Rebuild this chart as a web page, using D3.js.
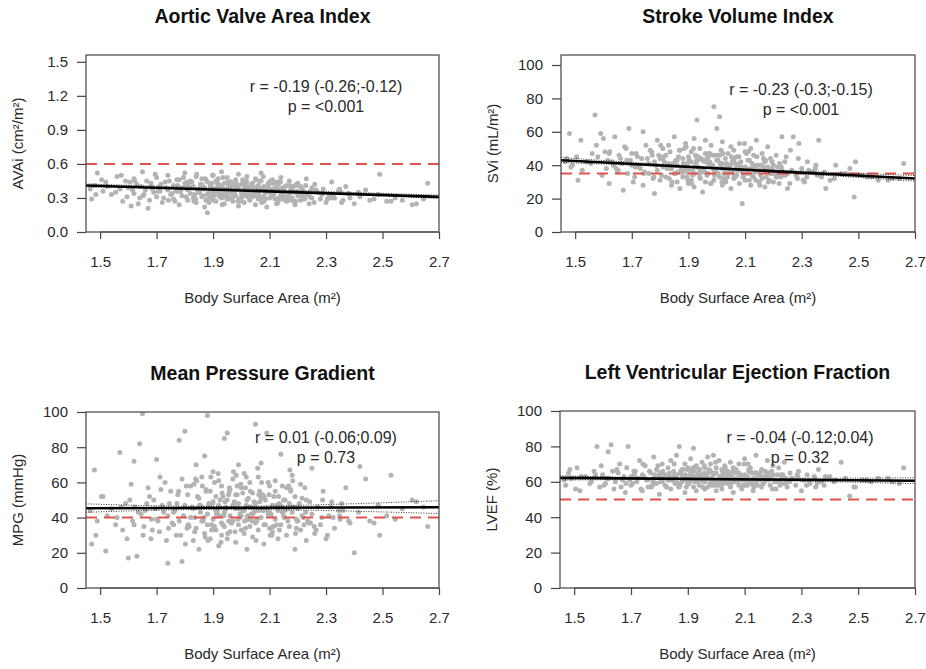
<!DOCTYPE html>
<html>
<head>
<meta charset="utf-8">
<script src="https://cdn.jsdelivr.net/npm/d3@7"></script>
<style>
  body { margin: 0; background: #fff; }
  text { font-family: "Liberation Sans", Arial, sans-serif; fill: #2a2a2a; }
  .title { font-weight: bold; fill: #111; }
</style>
</head>
<body>
<div id="graphic"></div>
<script>
(function() {
  /*** DATA ***/
  // body surface area (m²) of each patient, shared by the four panels
  var bsa = [
    1.47, 1.48, 1.49, 1.51, 1.52, 1.54, 1.56, 1.57, 1.58, 1.59,
    1.60, 1.61, 1.62, 1.62, 1.63, 1.64, 1.65, 1.66, 1.67, 1.68,
    1.69, 1.70, 1.70, 1.71, 1.72, 1.73, 1.74, 1.74, 1.75, 1.76,
    1.76, 1.77, 1.78, 1.78, 1.79, 1.79, 1.80, 1.80, 1.81, 1.81,
    1.82, 1.82, 1.83, 1.83, 1.84, 1.84, 1.85, 1.85, 1.86, 1.86,
    1.86, 1.87, 1.87, 1.88, 1.88, 1.88, 1.89, 1.89, 1.90, 1.90,
    1.90, 1.91, 1.91, 1.91, 1.92, 1.92, 1.92, 1.93, 1.93, 1.93,
    1.94, 1.94, 1.94, 1.95, 1.95, 1.95, 1.96, 1.96, 1.96, 1.97,
    1.97, 1.97, 1.98, 1.98, 1.98, 1.99, 1.99, 1.99, 2.00, 2.00,
    2.00, 2.01, 2.01, 2.01, 2.02, 2.02, 2.02, 2.03, 2.03, 2.03,
    2.04, 2.04, 2.04, 2.05, 2.05, 2.05, 2.06, 2.06, 2.06, 2.07,
    2.07, 2.07, 2.08, 2.08, 2.08, 2.09, 2.09, 2.10, 2.10, 2.10,
    2.11, 2.11, 2.12, 2.12, 2.12, 2.13, 2.13, 2.14, 2.14, 2.15,
    2.15, 2.16, 2.16, 2.17, 2.17, 2.18, 2.18, 2.19, 2.19, 2.20,
    2.20, 2.21, 2.21, 2.22, 2.23, 2.23, 2.24, 2.25, 2.25, 2.26,
    2.27, 2.28, 2.29, 2.30, 2.31, 2.32, 2.33, 2.35, 2.36, 2.37,
    2.38, 2.40, 2.42, 2.44, 2.47, 2.49, 2.53, 2.57, 2.62, 2.66,
    1.465, 1.485, 1.505, 1.525, 1.555, 1.575, 1.595, 1.605, 1.615, 1.635,
    1.645, 1.655, 1.665, 1.675, 1.685, 1.695, 1.705, 1.715, 1.725, 1.735,
    1.745, 1.755, 1.765, 1.775, 1.785, 1.795, 1.805, 1.815, 1.825, 1.835,
    1.845, 1.855, 1.865, 1.875, 1.885, 1.895, 1.905, 1.915, 1.925, 1.935,
    1.945, 1.955, 1.965, 1.975, 1.985, 1.995, 2.005, 2.015, 2.025, 2.035,
    2.045, 2.055, 2.065, 2.075, 2.085, 2.095, 2.105, 2.115, 2.125, 2.135,
    2.145, 2.155, 2.165, 2.175, 2.185, 2.195, 2.205, 2.215, 2.225, 2.245,
    1.835, 1.855, 1.875, 1.895, 1.915, 1.935, 1.955, 1.975, 1.995, 2.015,
    2.035, 2.055, 2.075, 2.095, 2.115, 2.135, 2.155, 2.175, 2.195, 2.215,
    1.885, 1.925, 1.965, 2.005, 2.045, 2.085, 2.125, 2.165, 2.265, 2.285,
    1.905, 1.945, 1.985, 2.025, 2.065, 2.105, 2.145, 2.235, 2.305, 2.345,
    2.325, 2.355, 2.385, 2.415, 2.455, 2.485, 2.515, 2.545, 2.605, 2.645,
    1.812, 1.832, 1.852, 1.872, 1.892, 1.912, 1.932, 1.952, 1.972, 1.992,
    2.012, 2.032, 2.052, 2.072, 2.092, 2.112, 2.132, 2.152, 2.172, 2.192,
    1.778, 1.808, 1.838, 1.868, 1.898, 1.928, 1.958, 1.988, 2.018, 2.048,
    2.078, 2.108, 2.138, 2.168, 2.198, 2.228, 2.258, 2.288, 2.318, 2.348,
    1.918, 1.938, 1.958, 1.978, 1.998, 2.018, 2.038, 2.058, 2.078, 2.098,
    1.622, 1.652, 1.682, 1.712, 1.742, 1.772, 1.802, 1.842, 1.882, 2.242,
    1.862, 1.902, 1.942, 1.982, 2.022, 2.062, 2.102, 2.142, 2.182, 2.222
  ];

  var avai = [
    0.29,0.41,0.52,0.36,0.44,0.33,0.49,0.38,0.27,0.45,
    0.39,0.23,0.47,0.34,0.42,0.30,0.53,0.37,0.21,0.43,
    0.35,0.48,0.31,0.40,0.26,0.44,0.37,0.50,0.33,0.29,
    0.41,0.36,0.46,0.24,0.39,0.32,0.52,0.43,0.28,0.37,
    0.34,0.45,0.30,0.40,0.49,0.26,0.38,0.35,0.42,0.31,
    0.47,0.22,0.39,0.33,0.44,0.17,0.36,0.41,0.28,0.50,
    0.34,0.38,0.45,0.27,0.32,0.42,0.37,0.53,0.30,0.40,
    0.25,0.36,0.43,0.33,0.48,0.29,0.39,0.35,0.44,0.31,
    0.41,0.27,0.37,0.46,0.32,0.23,0.39,0.51,0.34,0.42,
    0.30,0.37,0.44,0.26,0.35,0.40,0.49,0.33,0.28,0.38,
    0.43,0.31,0.36,0.47,0.24,0.39,0.34,0.41,0.29,0.52,
    0.37,0.45,0.32,0.27,0.40,0.35,0.22,0.43,0.30,0.38,
    0.34,0.46,0.29,0.39,0.36,0.26,0.42,0.33,0.48,0.31,
    0.37,0.27,0.41,0.34,0.45,0.30,0.38,0.24,0.35,0.43,
    0.32,0.40,0.28,0.36,0.47,0.33,0.25,0.39,0.30,0.42,
    0.35,0.29,0.38,0.26,0.33,0.44,0.30,0.36,0.28,0.40,
    0.34,0.25,0.31,0.37,0.29,0.51,0.27,0.28,0.25,0.43,
    0.38,0.33,0.46,0.40,0.35,0.50,0.31,0.44,0.37,0.25,
    0.40,0.33,0.45,0.28,0.38,0.51,0.36,0.42,0.30,0.39,
    0.45,0.34,0.27,0.41,0.36,0.48,0.31,0.39,0.44,0.29,
    0.37,0.42,0.32,0.46,0.26,0.39,0.35,0.43,0.31,0.48,
    0.38,0.29,0.44,0.35,0.40,0.27,0.46,0.33,0.37,0.42,
    0.32,0.39,0.45,0.28,0.36,0.41,0.34,0.38,0.25,0.44,
    0.35,0.40,0.31,0.37,0.27,0.42,0.33,0.38,0.29,0.36,
    0.33,0.39,0.28,0.43,0.35,0.31,0.41,0.37,0.29,0.34,
    0.40,0.36,0.30,0.43,0.33,0.38,0.28,0.35,0.41,0.32,
    0.30,0.41,0.35,0.32,0.38,0.29,0.44,0.31,0.37,0.33,
    0.36,0.32,0.40,0.38,0.31,0.35,0.39,0.34,0.29,0.37,
    0.32,0.26,0.30,0.35,0.28,0.33,0.27,0.30,0.24,0.29,
    0.42,0.27,0.35,0.47,0.31,0.39,0.24,0.44,0.36,0.29,
    0.40,0.33,0.46,0.26,0.37,0.43,0.30,0.35,0.41,0.27,
    0.36,0.44,0.29,0.38,0.50,0.33,0.41,0.27,0.45,0.34,
    0.39,0.31,0.44,0.28,0.36,0.41,0.26,0.34,0.30,0.38,
    0.47,0.35,0.30,0.40,0.28,0.44,0.36,0.32,0.49,0.38,
    0.45,0.32,0.40,0.36,0.28,0.46,0.39,0.51,0.34,0.31,
    0.40,0.32,0.37,0.43,0.31,0.38,0.45,0.29,0.40,0.35
  ];

  var svi = [
    44,59,40,31,55,42,47,70,45,59,
    56,38,29,47,42,57,36,44,25,50,
    62,40,47,33,45,38,60,28,52,41,
    35,48,23,42,55,37,44,31,50,39,
    46,33,41,52,28,38,57,35,43,30,
    40,49,26,36,44,33,53,38,29,45,
    37,48,31,42,35,56,27,67,39,44,
    33,50,38,24,43,36,47,30,55,41,
    35,45,29,40,52,37,75,31,62,43,
    38,69,33,46,28,41,54,36,44,31,
    47,35,40,26,51,37,43,32,49,39,
    34,45,29,41,53,36,17,39,48,31,
    43,35,50,28,38,46,33,55,40,30,
    37,47,32,42,27,39,51,35,44,30,
    40,33,46,29,57,37,42,26,35,49,
    57,34,53,38,30,42,36,40,55,33,
    36,31,40,35,38,42,33,31,32,41,
    42,39,45,37,41,52,34,48,43,40,
    38,46,41,51,35,43,30,47,39,44,
    36,44,49,32,40,46,34,42,38,48,
    41,35,45,38,50,33,42,37,46,39,
    44,38,34,47,40,36,43,49,32,39,
    37,42,33,45,39,35,47,31,41,36,
    40,34,44,37,31,42,36,39,33,45,
    39,43,36,41,34,45,38,42,35,40,
    41,36,39,34,43,37,40,33,38,35,
    36,40,44,35,38,42,34,39,37,32,
    42,37,40,35,41,38,36,34,31,37,
    37,34,26,32,35,21,34,33,31,32,
    45,32,40,36,51,29,43,38,47,34,
    41,30,45,37,33,48,39,28,43,36,
    33,44,38,49,31,42,36,46,30,40,
    45,37,31,42,35,39,29,44,33,38,
    50,35,42,29,46,38,33,44,37,53,
    48,37,43,39,35,46,52,30,41,34,
    36,43,32,40,47,34,38,45,30,41
  ];

  var mpg = [
    25,67,38,52,21,45,40,77,33,48,
    17,59,72,36,18,82,99,44,57,28,
    50,39,73,32,47,60,14,41,55,36,
    43,30,84,38,15,62,47,89,35,53,
    40,58,27,45,70,34,51,22,63,38,
    46,75,31,42,98,36,55,28,49,66,
    39,52,33,44,61,24,47,37,58,30,
    43,85,35,50,28,88,41,56,32,47,
    38,62,45,26,53,36,48,70,41,33,
    57,44,31,65,39,50,22,46,60,35,
    42,54,29,48,37,93,44,63,33,51,
    40,71,36,25,52,45,88,34,58,43,
    47,32,61,39,55,28,44,76,36,50,
    41,57,30,48,35,64,43,22,52,38,
    45,33,59,40,27,50,37,68,42,31,
    46,36,55,28,41,49,34,39,44,57,
    38,20,69,62,37,30,64,45,49,35,
    44,30,52,41,36,46,28,50,38,43,
    42,35,48,52,33,45,38,56,43,27,
    48,37,44,53,30,41,58,35,46,32,
    52,43,38,56,47,33,60,42,50,36,
    45,53,37,48,58,40,44,34,51,42,
    49,39,55,44,36,60,41,52,47,33,
    43,50,38,55,46,34,48,41,57,37,
    40,47,55,36,44,52,38,49,42,57,
    46,38,53,42,35,48,44,56,39,51,
    48,41,37,54,43,50,36,45,33,40,
    35,46,53,39,49,42,58,38,30,44,
    40,48,37,43,38,47,41,39,50,46,
    36,59,47,29,63,42,54,31,66,45,
    38,55,27,60,44,35,52,40,67,31,
    55,34,62,40,48,26,57,39,63,45,
    52,30,47,58,38,43,35,50,46,41,
    65,41,55,32,59,47,38,68,44,53,
    46,30,39,63,34,48,25,61,27,49,
    58,35,49,64,41,53,30,46,61,36
  ];

  var lvef = [
    58,65,62,68,55,63,60,66,80,57,
    64,59,77,62,81,56,67,70,61,54,
    80,63,58,66,60,72,55,64,69,61,
    57,65,62,74,59,67,53,63,70,60,
    64,58,68,61,72,56,63,66,59,75,
    62,80,57,67,60,64,70,54,63,68,
    59,65,61,73,57,66,79,62,69,55,
    63,67,58,71,61,64,56,68,60,74,
    62,57,66,70,59,64,75,61,55,68,
    65,60,72,58,63,67,56,62,69,61,
    59,66,63,71,57,64,61,68,54,62,
    67,60,65,58,70,62,56,64,73,61,
    63,58,68,61,66,55,62,75,59,64,
    61,67,57,63,60,72,65,58,62,69,
    64,56,61,68,59,63,71,60,57,65,
    62,58,66,55,61,64,59,57,67,60,
    58,63,61,71,52,57,61,62,60,68,
    61,67,56,63,59,64,69,58,62,66,
    60,65,57,63,68,61,59,66,62,56,
    63,61,66,58,64,69,60,62,57,65,
    61,64,59,66,62,57,63,67,60,65,
    64,60,62,67,58,65,61,63,59,66,
    60,63,66,61,64,58,62,67,59,65,
    62,65,59,63,61,66,60,64,58,62,
    63,59,65,61,64,60,62,66,58,63,
    61,64,60,62,66,59,63,61,65,60,
    62,60,64,58,63,61,65,59,62,64,
    59,63,61,65,60,62,58,64,61,63,
    61,59,63,60,62,57,61,60,62,59,
    66,61,70,58,64,62,68,57,65,60,
    63,68,59,65,61,70,57,64,66,62,
    60,65,62,57,67,63,69,61,58,64,
    62,59,65,61,56,64,60,63,58,62,
    68,62,65,59,71,60,64,66,62,70,
    62,66,59,64,70,57,65,61,67,59,
    64,60,67,62,66,61,58,65,63,60
  ];

  var titles = ["Aortic Valve Area Index", "Stroke Volume Index",
                "Mean Pressure Gradient", "Left Ventricular Ejection Fraction"];
  var yLabels = ["AVAi (cm²/m²)", "SVi (mL/m²)", "MPG (mmHg)", "LVEF (%)"];
  var xLabel = "Body Surface Area (m²)";
  var xTicks = [1.5, 1.7, 1.9, 2.1, 2.3, 2.5, 2.7];
  var yTicks = [[0, 0.3, 0.6, 0.9, 1.2, 1.5], [0, 20, 40, 60, 80, 100],
                [0, 20, 40, 60, 80, 100], [0, 20, 40, 60, 80, 100]];
  var yMax = [1.56, 106, 100, 100];
  var cutoffs = [0.6, 35, 40, 50];

  // regression line (at 1.45 and 2.7) and its confidence band (at 1.45, 2.0, 2.7)
  var fitX = [1.45, 2.7];
  var fitY = [[0.41, 0.31], [43, 32], [45.3, 45.9], [62.2, 60.6]];
  var ciX = [1.45, 2.0, 2.7];
  var ciLow = [[0.398, 0.370, 0.296], [41.6, 37.7, 30.5], [43.0, 44.7, 42.3], [61.0, 61.1, 59.0]];
  var ciHigh = [[0.424, 0.380, 0.325], [44.6, 38.7, 33.8], [47.8, 46.4, 49.6], [63.4, 61.9, 62.3]];

  var statR = ["r = -0.19 (-0.26;-0.12)", "r = -0.23 (-0.3;-0.15)",
               "r = 0.01 (-0.06;0.09)", "r = -0.04 (-0.12;0.04)"];
  var statP = ["p = <0.001", "p = <0.001", "p = 0.73", "p = 0.32"];

  /*** LAYOUT ***/
  var boxes = [
    { left: 86,  right: 439, top: 55,  bottom: 232 },
    { left: 561, right: 915, top: 55,  bottom: 232 },
    { left: 86,  right: 439, top: 412, bottom: 588 },
    { left: 560, right: 915, top: 411, bottom: 588 }
  ];
  var series = [avai, svi, mpg, lvef];

  var pointColor = "#b3b3b3";
  var cutColor = "#e2524c";
  var boxColor = "#444";

  var svg = d3.select("#graphic")
    .append("svg")
    .attr("width", 926)
    .attr("height", 669);

  boxes.forEach(function(b, k) {
    var x = d3.scaleLinear().domain([1.45, 2.7]).range([b.left, b.right]);
    var y = d3.scaleLinear().domain([0, yMax[k]]).range([b.bottom, b.top]);
    var g = svg.append("g");
    var cx = (b.left + b.right) / 2;

    var clipId = "clip" + k;
    g.append("clipPath").attr("id", clipId)
      .append("rect")
      .attr("x", b.left).attr("y", b.top)
      .attr("width", b.right - b.left).attr("height", b.bottom - b.top);

    /*** POINTS ***/
    var pts = bsa.map(function(v, i) { return [v, series[k][i]]; })
      .filter(function(d) { return d[1] != null; });

    var plot = g.append("g").attr("clip-path", "url(#" + clipId + ")");
    plot.selectAll(".dot")
      .data(pts).enter().append("circle")
      .attr("class", "dot")
      .attr("cx", function(d) { return x(d[0]); })
      .attr("cy", function(d) { return y(d[1]); })
      .attr("r", 2.5)
      .attr("fill", pointColor);

    /*** CUTOFF LINE ***/
    plot.append("line")
      .attr("x1", b.left).attr("x2", b.right)
      .attr("y1", y(cutoffs[k])).attr("y2", y(cutoffs[k]))
      .attr("stroke", cutColor)
      .attr("stroke-width", 2)
      .attr("stroke-dasharray", "11,7");

    /*** REGRESSION + CONFIDENCE BAND ***/
    var band = d3.line()
      .x(function(d) { return x(d[0]); })
      .y(function(d) { return y(d[1]); })
      .curve(d3.curveNatural);

    [ciLow[k], ciHigh[k]].forEach(function(arr) {
      plot.append("path")
        .attr("d", band(ciX.map(function(v, i) { return [v, arr[i]]; })))
        .attr("fill", "none")
        .attr("stroke", "#333")
        .attr("stroke-width", 1)
        .attr("stroke-dasharray", "1,1.5");
    });

    plot.append("line")
      .attr("x1", x(fitX[0])).attr("x2", x(fitX[1]))
      .attr("y1", y(fitY[k][0])).attr("y2", y(fitY[k][1]))
      .attr("stroke", "#000")
      .attr("stroke-width", 2.6);

    /*** BOX ***/
    g.append("rect")
      .attr("x", b.left).attr("y", b.top)
      .attr("width", b.right - b.left).attr("height", b.bottom - b.top)
      .attr("fill", "none")
      .attr("stroke", boxColor)
      .attr("stroke-width", 1.2);

    /*** AXES ***/
    var xAxis = g.append("g")
      .attr("transform", "translate(0," + b.bottom + ")")
      .call(d3.axisBottom(x).tickValues(xTicks).tickFormat(d3.format(".1f"))
        .tickSize(7).tickSizeOuter(0).tickPadding(17));

    var yAxis = g.append("g")
      .attr("transform", "translate(" + b.left + ",0)")
      .call(d3.axisLeft(y).tickValues(yTicks[k])
        .tickFormat(k === 0 ? d3.format(".1f") : d3.format("d"))
        .tickSize(9).tickSizeOuter(0).tickPadding(9));

    [xAxis, yAxis].forEach(function(a) {
      a.select(".domain").remove();
      a.selectAll("line").attr("stroke", boxColor).attr("stroke-width", 1.2);
      a.selectAll("text")
        .style("font-size", "15px")
        .style("font-family", "'Liberation Sans', Arial, sans-serif")
        .attr("fill", "#2a2a2a");
    });
    // R draws the x axis line from first to last tick
    g.append("line")
      .attr("x1", x(xTicks[0])).attr("x2", x(xTicks[xTicks.length - 1]))
      .attr("y1", b.bottom).attr("y2", b.bottom)
      .attr("stroke", boxColor).attr("stroke-width", 1.2);

    /*** LABELS ***/
    g.append("text")
      .attr("class", "title")
      .attr("x", cx).attr("y", b.top - 32)
      .attr("text-anchor", "middle")
      .style("font-size", "19.5px")
      .text(titles[k]);

    g.append("text")
      .attr("x", cx).attr("y", b.bottom + 71)
      .attr("text-anchor", "middle")
      .style("font-size", "15px")
      .text(xLabel);

    g.append("text")
      .attr("transform", "translate(" + (b.left - 63) + "," + ((b.top + b.bottom) / 2) + ") rotate(-90)")
      .attr("text-anchor", "middle")
      .style("font-size", "15px")
      .text(yLabels[k]);

    var sy = y(yTicks[k][5] * 0.85);
    g.append("text")
      .attr("x", b.left + 240).attr("y", sy + 5)
      .attr("text-anchor", "middle")
      .style("font-size", "16px")
      .text(statR[k]);
    g.append("text")
      .attr("x", b.left + 240).attr("y", sy + 25)
      .attr("text-anchor", "middle")
      .style("font-size", "16px")
      .text(statP[k]);
  });
})();
</script>
</body>
</html>
